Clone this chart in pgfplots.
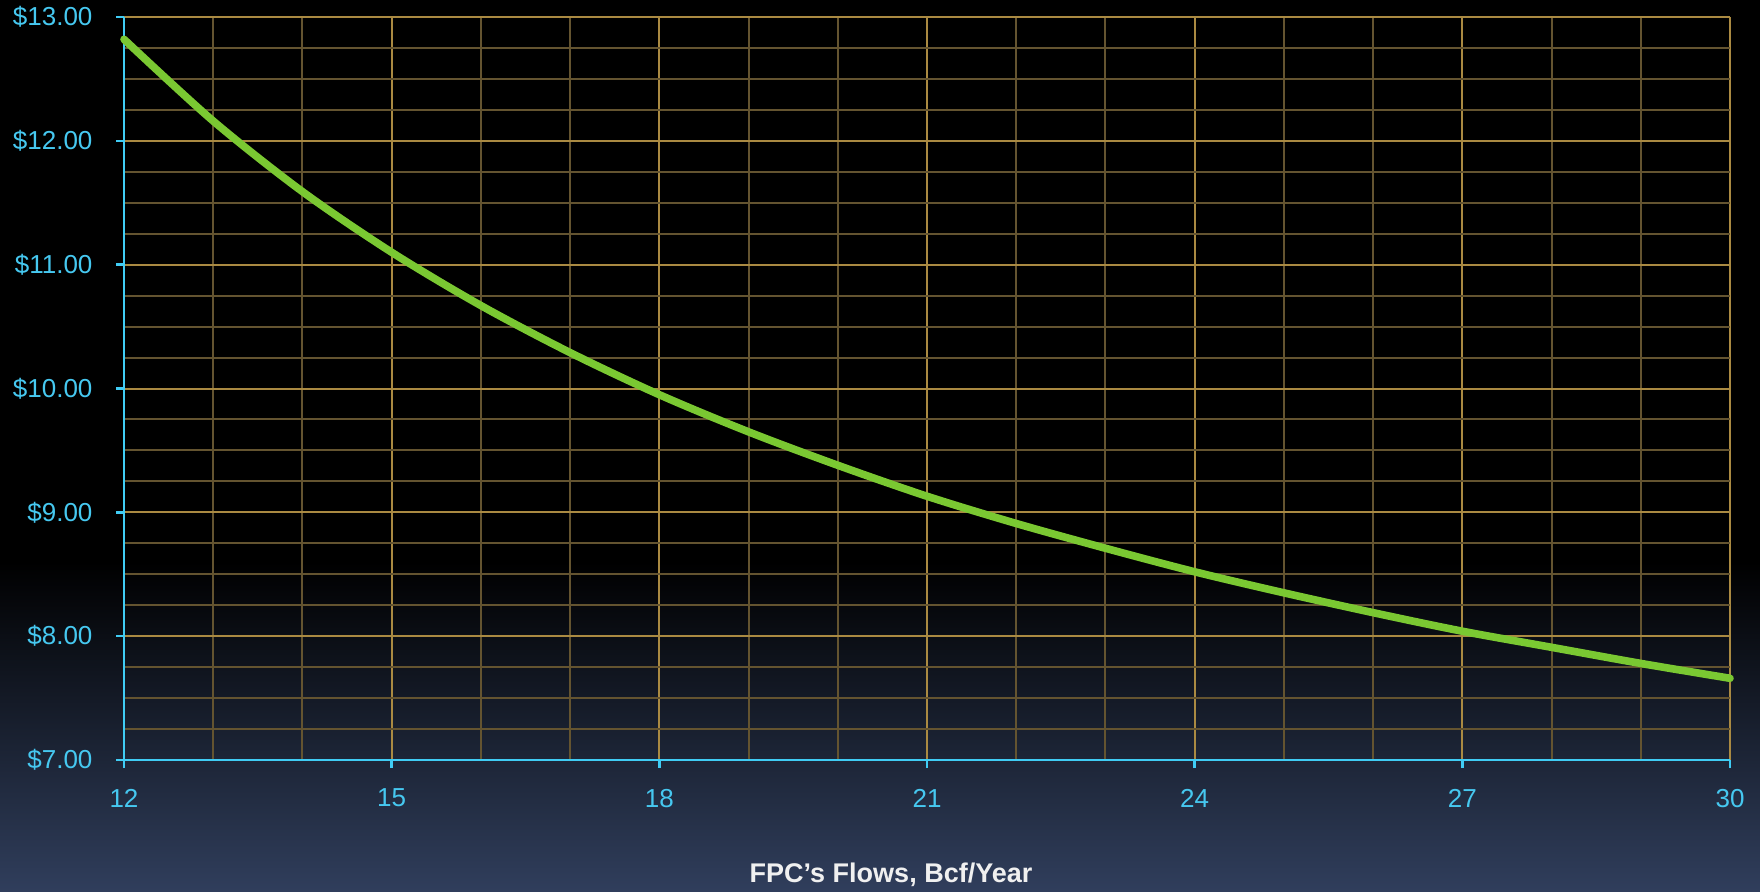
\documentclass[border=0pt]{standalone}
\usepackage{pgfplots}
\pgfplotsset{compat=1.18}
\usepackage{fontspec}
\setmainfont{Liberation Sans}
\definecolor{bgbot}{RGB}{48,62,92}
\definecolor{cyanax}{RGB}{64,204,244}
\definecolor{cyantxt}{RGB}{70,200,240}
\definecolor{gridmaj}{RGB}{170,138,66}
\definecolor{gridmin}{RGB}{100,84,48}
\definecolor{curve}{RGB}{122,200,50}
\pgfdeclareverticalshading{bgshade}{100bp}{color(0bp)=(bgbot); color(25bp)=(bgbot); color(43.5bp)=(black); color(100bp)=(black)}
\begin{document}
\begin{tikzpicture}
\useasboundingbox (0,0) rectangle (880pt,445.5pt);
\shade[shading=bgshade] (0,0) rectangle (880pt,445.5pt);
\begin{axis}[
  at={(62pt,65.5pt)}, anchor=south west,
  scale only axis, width=803pt, height=371.5pt,
  xmin=12, xmax=30, ymin=7, ymax=13,
  axis x line*=bottom, axis y line*=left,
  axis line style={cyanax, line width=1.4pt, -},
  xtick={12,15,...,30}, ytick={7,8,...,13},
  minor x tick num=2, minor y tick num=3,
  grid=both,
  major grid style={gridmaj, line width=1pt},
  minor grid style={gridmin, line width=1pt},
  tick align=outside, major tick length=4pt, minor tick length=0pt,
  tick style={cyanax, line width=1.2pt},
  /pgf/number format/assume math mode=true,
  ticklabel style={font=\fontsize{13pt}{16pt}\selectfont, text=cyantxt},
  yticklabel={\$\pgfmathprintnumber[fixed,fixed zerofill,precision=2]{\tick}},
  xticklabel style={yshift=-7pt},
  yticklabel style={xshift=-8.25pt},
  xlabel={\bfseries FPC’s Flows, Bcf/Year},
  xlabel style={at={(axis description cs:0.4776,-0.1642)}, anchor=base, font=\fontsize{13.5pt}{16pt}\selectfont, text={rgb,255:red,240;green,240;blue,240}},
  clip=false,
]
\addplot[curve, line width=3.8pt, smooth, line cap=round] coordinates {
(12,12.82) (13,12.16) (14,11.59) (15,11.10) (16,10.67) (17,10.29) (18,9.95)
(19,9.65) (20,9.38) (21,9.13) (22,8.91) (23,8.71) (24,8.52) (25,8.35)
(26,8.19) (27,8.04) (28,7.91) (29,7.78) (30,7.66)
};
\end{axis}
\end{tikzpicture}
\end{document}
